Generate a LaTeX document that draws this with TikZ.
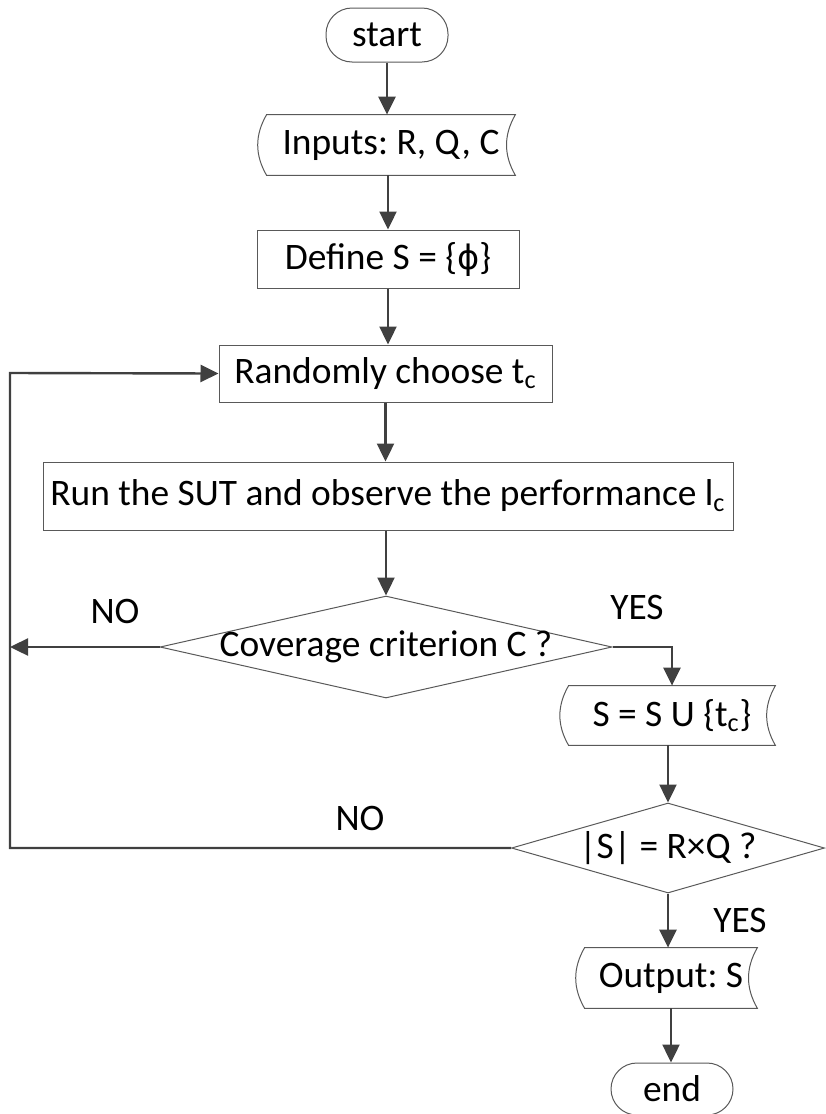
\documentclass[tikz,border=0pt]{standalone}
\usepackage{fontspec}
\setmainfont{Carlito}
\newfontfamily\phifont[Scale=0.9]{DejaVu Sans}
\usetikzlibrary{shapes.geometric,arrows.meta,calc}

% stored data outline around a plain node
\newcommand{\datashape}[1]{%
  \draw[box] (#1.north west) to[bend right=30] (#1.south west) -- (#1.south east)
    to[bend left=30] (#1.north east) -- cycle;}

\begin{document}
\begin{tikzpicture}[x=0.5pt, y=-0.5pt,
    font=\fontsize{18.7}{22}\selectfont\frenchspacing,
    box/.style={draw=black!65, line width=0.5pt},
    proc/.style={box, rectangle, inner sep=0pt},
    term/.style={box, rectangle, rounded corners=13pt, inner sep=0pt,
      minimum width=61pt, minimum height=26pt},
    io/.style={rectangle, inner sep=0pt},
    decide/.style={box, diamond, inner sep=0pt},
    flow/.style={draw=black!75, line width=1.2pt, -{Triangle[length=9pt,width=8.5pt]}}]
    \useasboundingbox (0,0) rectangle (825,1114);

    \node[term, minimum height=27pt] (start) at (387,35) {start};
    \node[io, minimum width=124pt, minimum height=30pt] (inputs) at (391,145) {Inputs: R, Q, C};
    \datashape{inputs}
    \node[proc, minimum width=131pt, minimum height=29pt] (define) at (388,259) {Define S = \{{\phifont ϕ}\}};
    \node[proc, minimum width=166.5pt, minimum height=28.5pt] (rand) at (385.5,373.5) {Randomly choose t\textsubscript{c}};
    \node[proc, minimum width=345pt, minimum height=34pt] (run) at (388,496)
      {Run the SUT and observe the performance l\textsubscript{c}};
    \node[decide, minimum width=226pt, minimum height=51pt] (cover) at (386,647)
      {\makebox[0pt]{Coverage criterion C ?}};
    \node[io, minimum width=103pt, minimum height=29.5pt] (update) at (672,715.5) {S = S U \{t\textsubscript{c}\}};
    \datashape{update}
    \node[decide, minimum width=156.5pt, minimum height=45pt] (size) at (668,848)
      {\makebox[0pt]{|S| = R×Q ?}};
    \node[io, minimum width=86pt, minimum height=30pt] (output) at (671,978) {Output: S};
    \datashape{output}
    \node[term] (end) at (672,1089) {end};

    \node (no1) at (115,611) {NO};
    \node (yes1) at (637,607) {YES};
    \node (no2) at (360,818) {NO};
    \node (yes2) at (740,920) {YES};

    \coordinate (back) at (10,373);

    \draw[flow] (start.south) -- (start.south |- inputs.north);
    \draw[flow] (define.north |- inputs.south) -- (define.north);
    \draw[flow] (define.south) -- (define.south |- rand.north);
    \draw[flow] (rand.south) -- (rand.south |- run.north);
    \draw[flow] (cover.north |- run.south) -- (cover.north);
    \draw[flow] (cover.west) -- (cover.west -| back);
    \draw[flow] (cover.east) -| (update.north);
    \draw[flow] (size.north |- update.south) -- (size.north);
    \draw[flow] (size.south) -- (size.south |- output.north);
    \draw[flow] (output.south) -- (output.south |- end.north);
    \draw[flow] (size.west) -- (size.west -| back) -- (back) -- (rand.west);
\end{tikzpicture}
\end{document}
